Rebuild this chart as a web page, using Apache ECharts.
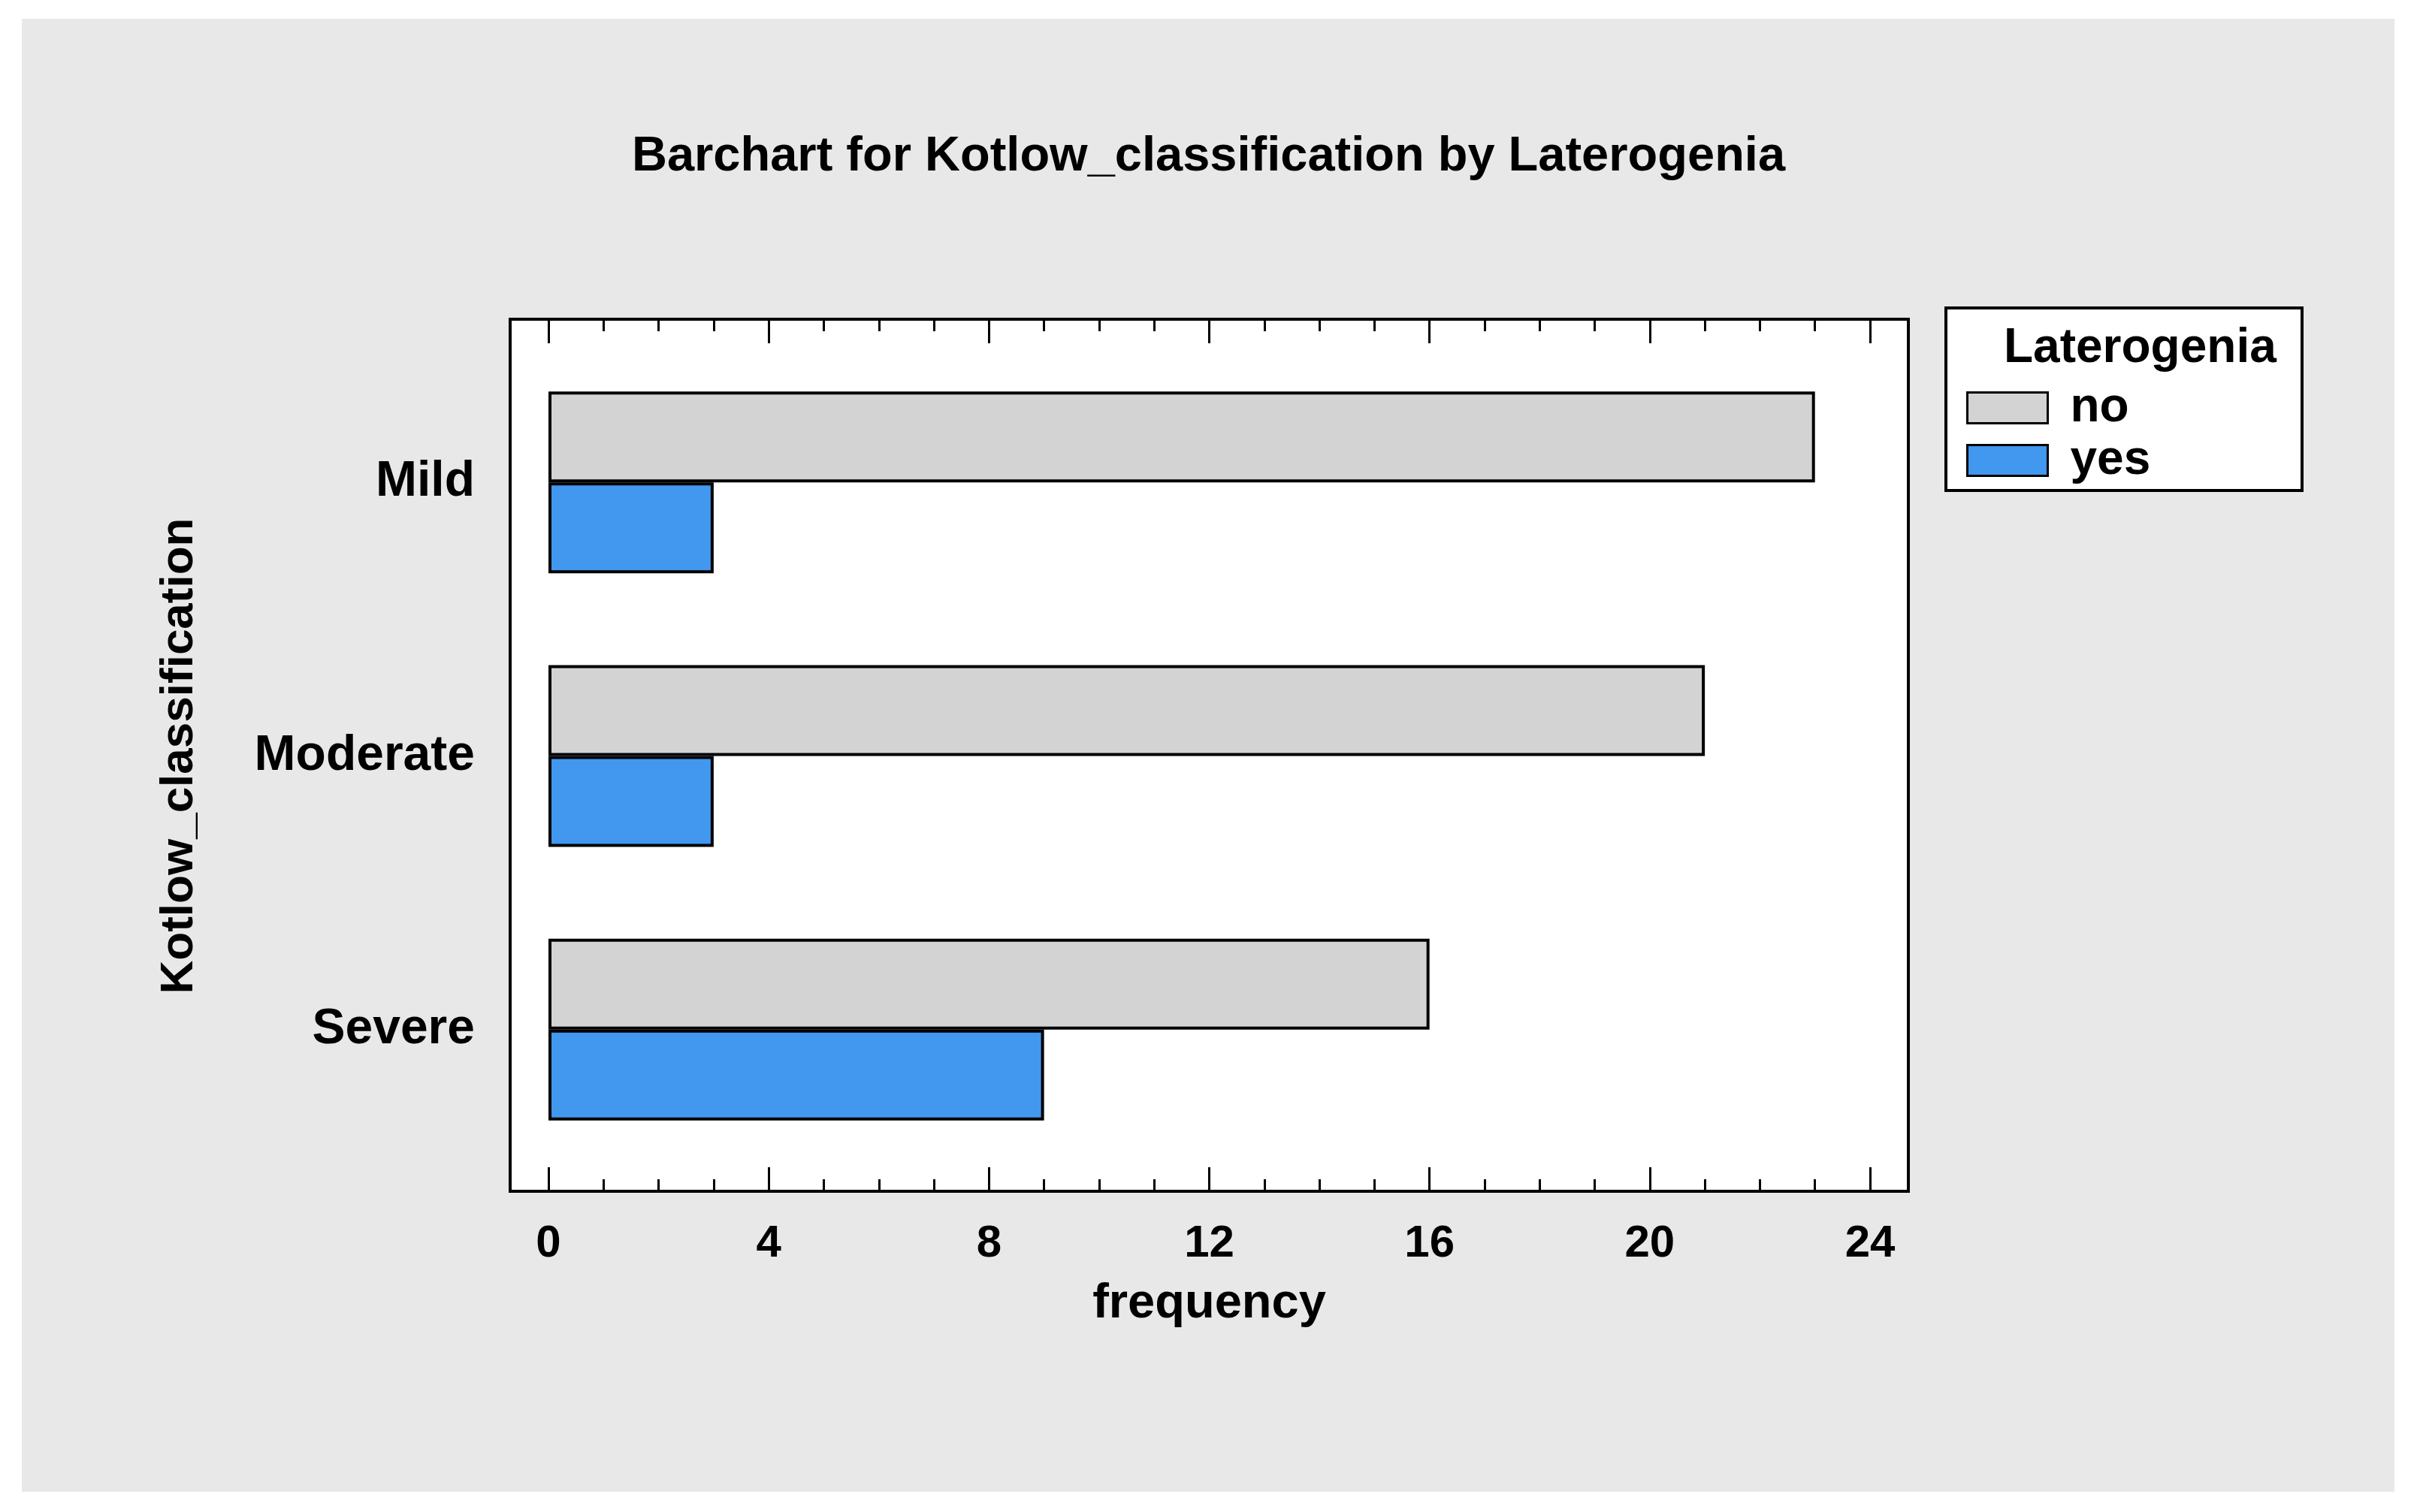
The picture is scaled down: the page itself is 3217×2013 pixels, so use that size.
<!DOCTYPE html>
<html>
<head>
<meta charset="UTF-8">
<title>Barchart for Kotlow_classification by Laterogenia</title>
<script src="https://cdn.jsdelivr.net/npm/echarts@6/dist/echarts.min.js"></script>
<style>
  html, body { margin: 0; padding: 0; background: #ffffff; }
  #main { width: 3217px; height: 2013px; }
</style>
</head>
<body>
<div id="main"></div>
<script type="text/javascript">
// data
var categories = ['Mild', 'Moderate', 'Severe'];
var noValues = [23, 21, 16];
var yesValues = [3, 3, 9];
var xTicks = [0, 4, 8, 12, 16, 20, 24];

var font = '"Liberation Sans", Arial, sans-serif';
var myChart = echarts.init(document.getElementById('main'));

var axisCommon = {
    type: 'value',
    min: xTicks[0],
    max: xTicks[xTicks.length - 1],
    interval: 4,
    axisLine: { show: false },
    axisTick: { show: true, inside: true, length: 32, lineStyle: { color: '#000', width: 3 } },
    minorTick: { show: true, splitNumber: 4, length: 16, lineStyle: { color: '#000', width: 3 } },
    splitLine: { show: false }
};

var option = {
    backgroundColor: '#ffffff',
    animation: false,
    title: {
        text: 'Barchart for Kotlow_classification by Laterogenia',
        left: 'center',
        top: 172,
        textStyle: { fontFamily: font, fontSize: 65, fontWeight: 'bold', color: '#000' }
    },
    grid: { left: 730, right: 728, top: 460, bottom: 460 },
    legend: {
        orient: 'vertical',
        left: 2612,
        top: 505,
        itemWidth: 107,
        itemHeight: 41,
        itemGap: 4,
        icon: 'rect',
        data: ['no', 'yes'],
        itemStyle: { borderColor: '#000', borderWidth: 3 },
        textStyle: { fontFamily: font, fontSize: 64, fontWeight: 'bold', color: '#000', lineHeight: 66, padding: [0, 0, 0, 25] }
    },
    graphic: [
        { type: 'rect', z: -10, shape: { x: 29, y: 25, width: 3158, height: 1961 }, style: { fill: '#e8e8e8' } },
        { type: 'rect', z: -5, shape: { x: 679, y: 425, width: 1861, height: 1161 }, style: { fill: '#ffffff', stroke: '#000', lineWidth: 4 } },
        { type: 'rect', z: -5, shape: { x: 2590, y: 410, width: 474, height: 243 }, style: { fill: '#ffffff', stroke: '#000', lineWidth: 4 } },
        { type: 'text', left: 2667, top: 432, style: { text: 'Laterogenia', font: 'bold 64px ' + font, fill: '#000' } }
    ],
    xAxis: [
        Object.assign({}, axisCommon, {
            position: 'bottom',
            offset: 33,
            name: 'frequency',
            nameLocation: 'middle',
            nameGap: 118,
            nameTextStyle: { fontFamily: font, fontSize: 65, fontWeight: 'bold', color: '#000' },
            axisLabel: { margin: 40, fontFamily: font, fontSize: 60, fontWeight: 'bold', color: '#000' }
        }),
        Object.assign({}, axisCommon, {
            position: 'top',
            offset: 35,
            axisLabel: { show: false }
        })
    ],
    yAxis: {
        type: 'category',
        inverse: true,
        data: categories,
        axisLine: { show: false },
        axisTick: { show: false },
        axisLabel: { margin: 98, fontFamily: font, fontSize: 66, fontWeight: 'bold', color: '#000' },
        name: 'Kotlow_classification',
        nameLocation: 'middle',
        nameGap: 460,
        nameRotate: 90,
        nameTextStyle: { fontFamily: font, fontSize: 62, fontWeight: 'bold', color: '#000' }
    },
    series: [
        {
            name: 'no', type: 'bar', data: noValues, barWidth: 121, barGap: '0%',
            itemStyle: { color: '#d3d3d3', borderColor: '#000', borderWidth: 4 }
        },
        {
            name: 'yes', type: 'bar', data: yesValues, barWidth: 121, barGap: '0%',
            itemStyle: { color: '#4297ee', borderColor: '#000', borderWidth: 4 }
        }
    ]
};
myChart.setOption(option);
</script>
</body>
</html>
